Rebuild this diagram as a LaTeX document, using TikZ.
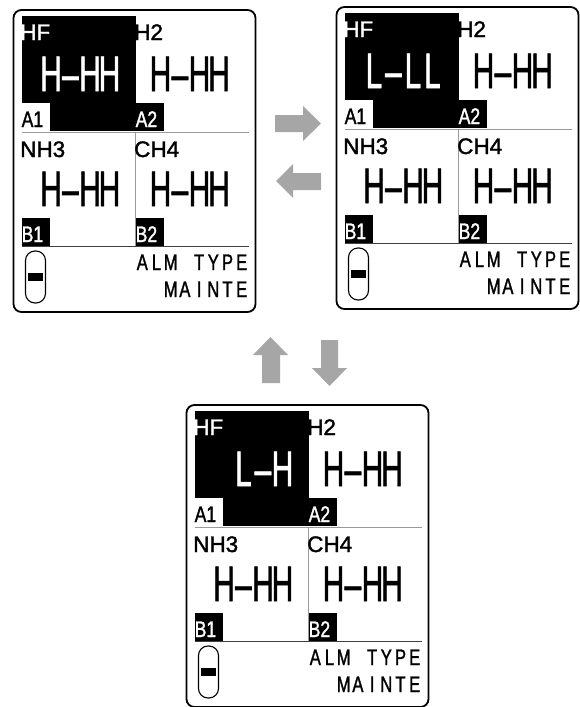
\documentclass[tikz,border=0pt]{standalone}
\usepackage{fontspec}
\setmainfont{Liberation Sans}
\newfontfamily\lcdfont[FakeBold=1.6]{Liberation Sans}
\newfontfamily\lcdbig[FakeBold=1.3]{Liberation Sans}
\usepackage{graphicx}
\definecolor{arrowgray}{HTML}{A6A6A6}
\definecolor{linegray}{HTML}{9A9A9A}
\newcommand\bch[1]{\makebox[19.5pt][c]{\scalebox{0.6}[1]{#1}}}
\newcommand\sch[1]{\makebox[14.2pt][c]{\scalebox{0.74}[1]{#1}}}
\newcommand\bigH{\bch{H}\bch{\textendash}\bch{H}\bch{H}}
\tikzset{
  panelbox/.style={draw=black,line width=1.8pt,rounded corners=8pt},
  thinline/.style={draw=linegray,line width=1pt},
  sepline/.style={draw=black!75,line width=1.4pt},
  lbl/.style={inner sep=0pt,anchor=base west,font=\lcdfont\fontsize{22.5}{22.5}\selectfont},
  tag/.style={inner sep=0pt,anchor=base west,font=\lcdfont\fontsize{22.5}{22.5}\selectfont},
  bigtxt/.style={inner sep=0pt,anchor=base west,font=\lcdbig\fontsize{50}{50}\selectfont},
  monotxt/.style={inner sep=0pt,anchor=base east,font=\lcdfont\fontsize{22.5}{22.5}\selectfont},
  blockarrow/.style={fill=arrowgray,draw=none}
}
\newcommand\lcdpanel[4]{%
\begin{scope}[shift={(#2,#3)}]
  \draw[panelbox] (-8,-6) rectangle (234,296);
  \fill[black] (0,0) rectangle (114,115);
  \fill[white] (0,87) rectangle (28,115);
  \fill[black] (114,87) rectangle (142,115);
  \fill[black] (0,202) rectangle (28,230);
  \fill[black] (114,202) rectangle (142,230);
  \draw[thinline] (0,116) -- (227,116);
  \draw[thinline] (113.5,116) -- (113.5,230);
  \draw[sepline] (0,230.5) -- (227,230.5);
  \node[lbl,text=white] (#1hf) at (-1.5,24) {HF};
  \node[lbl] (#1htwo) at (112.5,24) {H2};
  \node[lbl] (#1nh) at (-1.5,141) {NH3};
  \node[lbl] (#1ch) at (112.5,141) {CH4};
  \node[tag] (#1aone) at (0,111) {\scalebox{0.78}[1]{A1}};
  \node[tag,text=white] (#1atwo) at (114,111) {\scalebox{0.78}[1]{A2}};
  \node[tag,text=white] (#1bone) at (0,226) {\scalebox{0.78}[1]{B1}};
  \node[tag,text=white] (#1btwo) at (114,226) {\scalebox{0.78}[1]{B2}};
  \node[bigtxt,text=white] (#1va) at (19.5,75) {#4};
  \node[bigtxt] (#1vb) at (129,75) {\bigH};
  \node[bigtxt] (#1vc) at (19.5,190) {\bigH};
  \node[bigtxt] (#1vd) at (129,190) {\bigH};
  \draw[line width=1.1pt,rounded corners=9.5pt] (4,235) rectangle (24,287);
  \fill[black] (6.5,257) rectangle (21.5,265);
  \node[monotxt] (#1alm) at (227.5,254) {\sch{A}\sch{L}\sch{M}\sch{}\sch{T}\sch{Y}\sch{P}\sch{E}};
  \node[monotxt] (#1mnt) at (227.5,281) {\sch{M}\sch{A}\sch{I}\sch{N}\sch{T}\sch{E}};
\end{scope}}
\begin{document}
\begin{tikzpicture}[x=1pt,y=-1pt]
\useasboundingbox (0,0) rectangle (579,707);
\lcdpanel{p}{21.5}{16}{\bigH}
\lcdpanel{q}{344.5}{13}{\bch{L}\bch{\textendash}\bch{L}\bch{L}}
\lcdpanel{r}{194.5}{411}{\bch{}\bch{L}\bch{\textendash}\bch{H}}
% right arrow
\fill[blockarrow] (275,115) -- (303,115) -- (303,106) -- (321,123.5) -- (303,141) -- (303,132) -- (275,132) -- cycle;
% left arrow
\fill[blockarrow] (321,173) -- (293,173) -- (293,164) -- (276,181) -- (293,198) -- (293,190) -- (321,190) -- cycle;
% up arrow
\fill[blockarrow] (262,383) -- (262,355) -- (253,355) -- (270.5,337) -- (288,355) -- (280,355) -- (280,383) -- cycle;
% down arrow
\fill[blockarrow] (321,340) -- (321,368) -- (312,368) -- (329.5,386) -- (347,368) -- (338,368) -- (338,340) -- cycle;
\end{tikzpicture}
\end{document}
